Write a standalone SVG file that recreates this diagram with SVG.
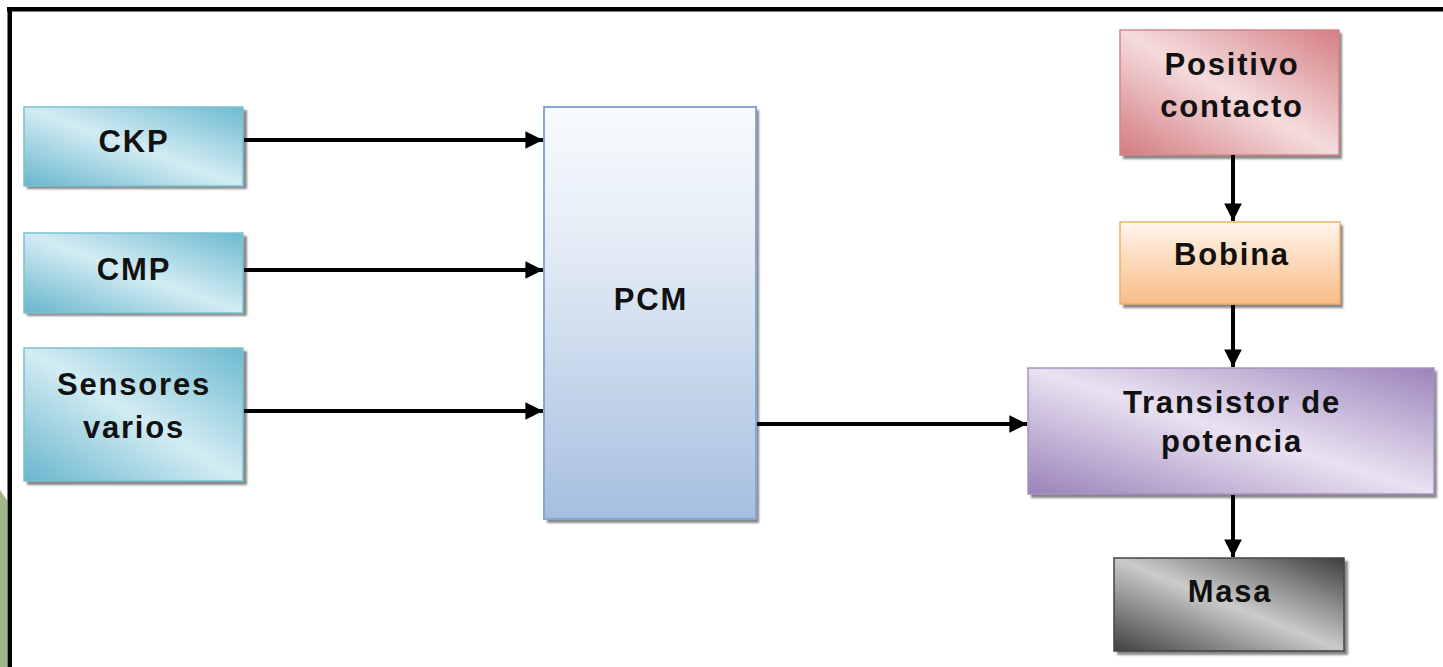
<svg xmlns="http://www.w3.org/2000/svg" width="1443" height="667" viewBox="0 0 1443 667">
  <defs>
    <!-- diagonal band fills: dark at top-right and bottom-left corners -->
    <linearGradient id="gCyan" x1="1" y1="0" x2="0" y2="1">
      <stop offset="0" stop-color="#6cbad0"/>
      <stop offset="0.5" stop-color="#d3ecf3"/>
      <stop offset="1" stop-color="#68b6cc"/>
    </linearGradient>
    <linearGradient id="gRed" x1="1" y1="0" x2="0" y2="1">
      <stop offset="0" stop-color="#d57e83"/>
      <stop offset="0.5" stop-color="#f5dcdd"/>
      <stop offset="1" stop-color="#d27b80"/>
    </linearGradient>
    <linearGradient id="gPurple" x1="1" y1="0" x2="0" y2="1">
      <stop offset="0" stop-color="#9c84bb"/>
      <stop offset="0.5" stop-color="#e9e2f1"/>
      <stop offset="1" stop-color="#9a82b9"/>
    </linearGradient>
    <linearGradient id="gGray" x1="1" y1="0" x2="0" y2="1">
      <stop offset="0" stop-color="#3e3e3e"/>
      <stop offset="0.5" stop-color="#cbcbcb"/>
      <stop offset="1" stop-color="#404040"/>
    </linearGradient>
    <linearGradient id="gBlue" x1="0" y1="0" x2="0" y2="1">
      <stop offset="0" stop-color="#f8fbfe"/>
      <stop offset="0.35" stop-color="#e2ebf5"/>
      <stop offset="1" stop-color="#a6bfdf"/>
    </linearGradient>
    <linearGradient id="gOrange" x1="0" y1="0" x2="0" y2="1">
      <stop offset="0" stop-color="#fff6ee"/>
      <stop offset="0.3" stop-color="#fde3cc"/>
      <stop offset="1" stop-color="#f7bd88"/>
    </linearGradient>
    <filter id="soft" x="-5%" y="-5%" width="110%" height="110%">
      <feGaussianBlur stdDeviation="1.2"/>
    </filter>
    <marker id="arrow" viewBox="0 0 10 10" refX="10" refY="5" markerWidth="4.4" markerHeight="4.4" orient="auto" markerUnits="strokeWidth">
      <path d="M0,0 L10,5 L0,10 Z" fill="#000"/>
    </marker>
  </defs>
  <style>
    .lbl { font-family: "Liberation Sans", Arial, sans-serif; font-weight: bold; font-size: 31px; letter-spacing: 1.8px; fill: #111; text-anchor: middle; }
    .shadow { fill: #5e5e5e; opacity: 0.75; filter: url(#soft); }
    .wire { stroke: #000; stroke-width: 4; fill: none; marker-end: url(#arrow); }
  </style>

  <rect width="1443" height="667" fill="#ffffff"/>

  <!-- page frame -->
  <polygon points="0,490 7,500 7,667 0,667" fill="#9db787"/>
  <rect x="7" y="7" width="1436" height="4.5" fill="#000"/>
  <rect x="7.5" y="7" width="4.5" height="660" fill="#000"/>

  <g id="ckp">
    <rect class="shadow" x="27" y="110" width="220" height="79"/>
    <rect x="24" y="107" width="219" height="79" fill="url(#gCyan)" stroke="#7cc1d2" stroke-width="1.5"/>
    <text class="lbl" x="134" y="152">CKP</text>
  </g>

  <g id="cmp">
    <rect class="shadow" x="27" y="236" width="220" height="80"/>
    <rect x="24" y="233" width="219" height="80" fill="url(#gCyan)" stroke="#7cc1d2" stroke-width="1.5"/>
    <text class="lbl" x="134" y="280">CMP</text>
  </g>

  <g id="sensores">
    <rect class="shadow" x="27" y="351" width="220" height="134"/>
    <rect x="24" y="348" width="219" height="133" fill="url(#gCyan)" stroke="#7cc1d2" stroke-width="1.5"/>
    <text class="lbl" x="134" y="395">Sensores</text>
    <text class="lbl" x="134" y="438">varios</text>
  </g>

  <g id="pcm">
    <rect class="shadow" x="547" y="110" width="212" height="413"/>
    <rect x="544" y="107" width="212" height="412" fill="url(#gBlue)" stroke="#86a6d4" stroke-width="2"/>
    <text class="lbl" x="651" y="310">PCM</text>
  </g>

  <g id="positivo">
    <rect class="shadow" x="1123" y="33" width="219" height="126"/>
    <rect x="1120" y="30" width="219" height="125" fill="url(#gRed)" stroke="#d3868a" stroke-width="1.5"/>
    <text class="lbl" x="1232" y="75">Positivo</text>
    <text class="lbl" x="1232" y="117">contacto</text>
  </g>

  <g id="bobina">
    <rect class="shadow" x="1123" y="225" width="220" height="83"/>
    <rect x="1120" y="222" width="220" height="82" fill="url(#gOrange)" stroke="#f3ad6e" stroke-width="1.5"/>
    <text class="lbl" x="1232" y="265">Bobina</text>
  </g>

  <g id="transistor">
    <rect class="shadow" x="1031" y="371" width="406" height="127"/>
    <rect x="1028" y="368" width="406" height="126" fill="url(#gPurple)" stroke="#a991c3" stroke-width="1.5"/>
    <text class="lbl" x="1232" y="413">Transistor de</text>
    <text class="lbl" x="1232" y="452">potencia</text>
  </g>

  <g id="masa">
    <rect class="shadow" x="1117" y="561" width="231" height="94"/>
    <rect x="1114" y="558" width="230" height="93" fill="url(#gGray)" stroke="#444" stroke-width="1.5"/>
    <text class="lbl" x="1230" y="602">Masa</text>
  </g>

  <g id="connectors">
    <line class="wire" x1="244" y1="140" x2="543" y2="140"/>
    <line class="wire" x1="244" y1="270" x2="543" y2="270"/>
    <line class="wire" x1="244" y1="411" x2="543" y2="411"/>
    <line class="wire" x1="757" y1="424" x2="1027" y2="424"/>
    <line class="wire" x1="1233" y1="155" x2="1233" y2="221"/>
    <line class="wire" x1="1233" y1="305" x2="1233" y2="367"/>
    <line class="wire" x1="1233" y1="495" x2="1233" y2="557"/>
  </g>
</svg>
